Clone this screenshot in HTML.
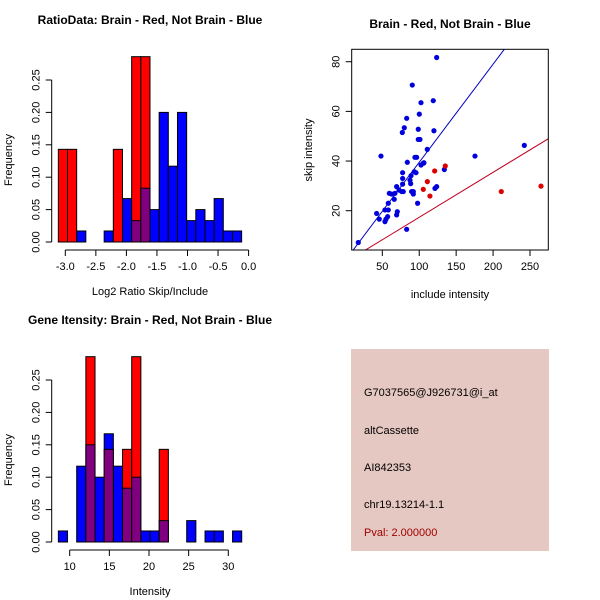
<!DOCTYPE html>
<html><head><meta charset="utf-8"><style>
body{margin:0;background:#fff;}
svg{display:block;font-family:"Liberation Sans",sans-serif;}
</style></head><body>
<svg id="c" width="600" height="600" viewBox="0 0 600 600"></svg>
<script>
// ---- data ----
const ratioBinStart = -3.114;
const ratioBinWidth = 0.15;
const ratioRed  = [0.143,0.143,0,0,0,0,0.143,0,0.286,0.286,0,0,0,0,0,0,0,0,0,0];
const ratioBlue = [0,0,0.017,0,0,0.017,0,0.067,0.033,0.083,0.05,0.2,0.117,0.2,0.033,0.05,0.033,0.067,0.017,0.017];
const ratioXTicks = [-3.0,-2.5,-2.0,-1.5,-1.0,-0.5,0.0];
const freqTicks = [0,0.05,0.10,0.15,0.20,0.25];
const freqLabels = ["0.00","0.05","0.10","0.15","0.20","0.25"];

const intBinStart = 8.57;
const intBinWidth = 1.156;
const intRed  = [0,0,0,0.286,0,0.143,0,0.143,0.286,0,0,0.143,0,0,0,0,0,0,0,0];
const intBlue = [0.017,0,0.117,0.15,0.1,0.167,0.117,0.083,0.1,0.017,0.017,0.033,0,0,0.033,0,0.017,0.017,0,0.017];
const intXTicks = [10,15,20,25,30];

const blueX = [17.5,42.3,45.9,48.2,53.6,55,53.6,57.2,58.1,58.1,59.5,62.6,66.2,67.1,69.4,69.4,70.3,72.6,76.2,77.5,77.5,77.5,78.4,77.1,79.8,83,83,83.9,87.5,88.4,88.9,89.7,90.6,92,92,93.3,94.2,95.6,96.5,97.8,98.7,98.7,100.1,101,102.4,102.4,105.5,106.4,110.9,119,119.9,121.3,123.6,123.6,134,175.5,242.3];
const blueY = [7.2,18.9,16.6,42.0,15.6,16.6,20.3,17.6,20.3,23.0,27,26.7,24.6,27,29.7,18.3,19.6,28.3,27.7,30.7,33,35.3,27.7,51.5,53.4,57.2,12.5,39.5,32.3,30.9,34.1,27.7,70.6,27.7,26.7,35.7,41.5,35.3,41.5,23,52.8,48.7,58.9,48.7,63.5,38.4,39.1,39.3,44.7,64.3,52.2,29,29.7,81.7,36.6,42,46.3];
const redX = [105.5,111,114.5,120.9,135.3,211.1,264.9];
const redY = [28.6,31.7,25.9,36,38,27.7,29.9];
const blueFit = [0, 0.395];   // intercept, slope
const redFit = [-0.75, 0.181];
const scatXTicks = [50,100,150,200,250];
const scatYTicks = [20,40,60,80];

const infoLines = ["G7037565@J926731@i_at","altCassette","AI842353","chr19.13214-1.1"];
const pvalText = "Pval: 2.000000";

// ---- helpers ----
const svg = document.getElementById('c');
const NS = "http://www.w3.org/2000/svg";
function mk(tag, attrs, parent){
  const e = document.createElementNS(NS, tag);
  for (const k in attrs) e.setAttribute(k, attrs[k]);
  (parent||svg).appendChild(e);
  return e;
}
function txt(s, x, y, opts, parent){
  const e = mk('text', Object.assign({x:x, y:y, 'font-size':11, fill:'#000', 'text-anchor':'middle'}, opts||{}), parent);
  e.textContent = s;
  return e;
}

function histogram(name, top, binStart, binW, red, blue, xTicks, xTickFmt, title, xlabel, x0px, x0val, pxPerX) {
  const g = mk('g', {});
  
  
  const yBase = top + 202, pxPerY = 648;
  const X = v => x0px + (v - x0val) * pxPerX;
  const Y = v => yBase - v * pxPerY;
  for (let i = 0; i < red.length; i++) {
    const xa = X(binStart + i*binW), xb = X(binStart + (i+1)*binW);
    const r = red[i], b = blue[i];
    const mx = Math.max(r,b), mn = Math.min(r,b);
    if (mx > 0) {
      const top1 = mk('rect', {x:xa, y:Y(mx), width:xb-xa, height:Y(0)-Y(mx), fill: r>=b ? '#ff0000':'#0000ff', stroke:'#000', 'stroke-width':1}, g);
      
      
    }
    if (mn > 0) {
      const ov = mk('rect', {x:xa, y:Y(mn), width:xb-xa, height:Y(0)-Y(mn), fill:'#80007f', stroke:'#000', 'stroke-width':1}, g);
      
      
    }
  }
  // y axis
  const yax = mk('g', {}, g);
  
  
  const ax = 51.7;
  mk('line', {x1:ax, x2:ax, y1:Y(0), y2:Y(0.25), stroke:'#000'}, yax);
  freqTicks.forEach((t,i) => {
    mk('line', {x1:ax-6, x2:ax, y1:Y(t), y2:Y(t), stroke:'#000'}, yax);
    txt(freqLabels[i], 0, 0, {transform:`translate(${ax-12},${Y(t)}) rotate(-90)`, 'font-size':11}, yax);
  });
  const yl = txt('Frequency', 0, 0, {transform:`translate(12,${top+120}) rotate(-90)`, 'font-size':11}, g);
  
  
  // x axis
  const xax = mk('g', {}, g);
  
  
  const ay = top + 210;
  mk('line', {x1:X(xTicks[0]), x2:X(xTicks[xTicks.length-1]), y1:ay, y2:ay, stroke:'#000'}, xax);
  xTicks.forEach(t => {
    mk('line', {x1:X(t), x2:X(t), y1:ay, y2:ay+6, stroke:'#000'}, xax);
    txt(xTickFmt(t), X(t), ay+20, {}, xax);
  });
  const xl = txt(xlabel, 150, top + 255, {}, g);
  
  
  const tt = txt(title, 150, top - 16, {'font-weight':'bold','font-size':12}, g);
  
  
}

histogram('ratio-histogram', 40, ratioBinStart, ratioBinWidth, ratioRed, ratioBlue, ratioXTicks, t => t.toFixed(1),
  'RatioData: Brain - Red, Not Brain - Blue', 'Log2 Ratio Skip/Include', 65.3, -3, 61.1);
histogram('intensity-histogram', 340, intBinStart, intBinWidth, intRed, intBlue, intXTicks, t => String(t),
  'Gene Itensity: Brain - Red, Not Brain - Blue', 'Intensity', 69.7, 10, 7.93);

// ---- scatter ----
(function(){
  const g = mk('g', {});
  
  
  const L = 351.7, R = 548.3, T = 49.3, B = 250;
  const X = v => 382.3 + (v - 50) * 0.7385;
  const Y = v => 210.7 - (v - 20) * 2.483;
  const clip = mk('clipPath', {id:'sc'}, g);
  mk('rect', {x:L, y:T, width:R-L, height:B-T}, clip);
  const lines = mk('g', {'clip-path':'url(#sc)'}, g);
  const xmin = 0, xmax = 300;
  const bl = mk('line', {x1:X(xmin), y1:Y(blueFit[0]+blueFit[1]*xmin), x2:X(xmax), y2:Y(blueFit[0]+blueFit[1]*xmax), stroke:'#0000c0', 'stroke-width':1}, lines);
  
  
  const rl = mk('line', {x1:X(xmin), y1:Y(redFit[0]+redFit[1]*xmin), x2:X(xmax), y2:Y(redFit[0]+redFit[1]*xmax), stroke:'#c00020', 'stroke-width':1}, lines);
  
  
  blueX.forEach((v,i) => {
    const c = mk('circle', {cx:X(v), cy:Y(blueY[i]), r:2.6, fill:'#0000dd'}, g);
    
    
  });
  redX.forEach((v,i) => {
    const c = mk('circle', {cx:X(v), cy:Y(redY[i]), r:2.6, fill:'#dd0000'}, g);
    
    
  });
  mk('rect', {x:L, y:T, width:R-L, height:B-T, fill:'none', stroke:'#000'}, g);
  scatXTicks.forEach(t => {
    mk('line', {x1:X(t), x2:X(t), y1:B, y2:B+6, stroke:'#000'}, g);
    txt(String(t), X(t), B+20, {}, g);
  });
  scatYTicks.forEach(t => {
    mk('line', {x1:L-6, x2:L, y1:Y(t), y2:Y(t), stroke:'#000'}, g);
    txt(String(t), 0, 0, {transform:`translate(${L-12},${Y(t)}) rotate(-90)`}, g);
  });
  const xl = txt('include intensity', 450, 298, {}, g);
  
  
  const yl = txt('skip intensity', 0, 0, {transform:'translate(312,150) rotate(-90)'}, g);
  
  
  const tt = txt('Brain - Red, Not Brain - Blue', 450, 28, {'font-weight':'bold','font-size':12}, g);
  
  
})();

// ---- info box ----
(function(){
  const g = mk('g', {});
  
  
  mk('rect', {x:351, y:349, width:198, height:202, fill:'#e6c8c2'}, g);
  const ys = [396, 434, 471, 508];
  infoLines.forEach((s,i) => {
    const t = txt(s, 364, ys[i], {'text-anchor':'start'}, g);
    
    
  });
  const p = txt(pvalText, 364, 536, {'text-anchor':'start', fill:'#a00000'}, g);
  
  
})();
</script>
</body></html>
